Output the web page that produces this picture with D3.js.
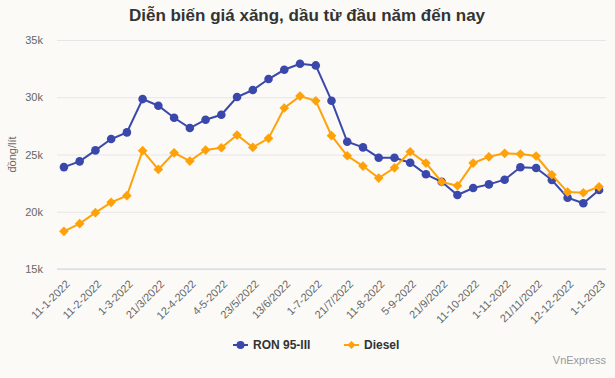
<!DOCTYPE html>
<html>
<head>
<meta charset="utf-8">
<script src="https://cdn.jsdelivr.net/npm/d3@7"></script>
<style>
  body { margin: 0; background: #fbfaf7; }
  svg { display: block; font-family: "Liberation Sans", Arial, sans-serif; }
</style>
</head>
<body>
<svg width="615" height="378"></svg>
<script>
const dates = [
  '11-1-2022', '21-1-2022', '11-2-2022', '21-2-2022', '1-3-2022', '11-3-2022',
  '21/3/2022', '1-4-2022', '12-4-2022', '25-4-2022', '4-5-2022', '11-5-2022',
  '23/5/2022', '1-6-2022', '13/6/2022', '21-6-2022', '1-7-2022', '11-7-2022',
  '21/7/2022', '1-8-2022', '11-8-2022', '22-8-2022', '5-9-2022', '12-9-2022',
  '21/9/2022', '3-10-2022', '11-10-2022', '21-10-2022', '1-11-2022', '11-11-2022',
  '21/11/2022', '1-12-2022', '12-12-2022', '21-12-2022', '1-1-2023'
];
const ron95 = [
  23900, 24400, 25360, 26350, 26930, 29840, 29260, 28210, 27310, 28040, 28470, 30020,
  30630, 31590, 32400, 32920, 32780, 29700, 26110, 25620, 24720, 24720, 24280, 23270,
  22620, 21460, 22070, 22390, 22800, 23880, 23820, 22770, 21230, 20740, 21900
];
const diesel = [
  18290, 18960, 19920, 20820, 21400, 25330, 23700, 25150, 24430, 25390, 25590, 26700,
  25620, 26410, 29060, 30100, 29690, 26640, 24890, 23990, 22940, 23840, 25240, 24250,
  22600, 22270, 24250, 24800, 25100, 25040, 24870, 23230, 21720, 21660, 22180
];
const yTicks = [15000, 20000, 25000, 30000, 35000];

const svg = d3.select('svg');
const margin = { top: 40, left: 57, right: 9, bottom: 109 };
const width = +svg.attr('width') - margin.left - margin.right;
const height = +svg.attr('height') - margin.top - margin.bottom;

const blue = '#3a48ab';
const orange = '#ffa20a';

svg.append('text')
    .attr('x', 307)
    .attr('y', 21)
    .attr('text-anchor', 'middle')
    .style('font-size', '17px')
    .style('font-weight', 'bold')
    .style('fill', '#333')
    .text('Diễn biến giá xăng, dầu từ đầu năm đến nay');

const g = svg.append('g').attr('transform', `translate(${margin.left}, ${margin.top})`);

const x = d3.scalePoint().domain(dates).range([0, width]).padding(0.44);
const y = d3.scaleLinear().domain([15000, 35000]).range([height, 0]);

// grid + y labels
const yAxis = d3.axisLeft(y).tickValues(yTicks).tickSize(-width).tickFormat(d3.format('~s'));
g.append('g')
    .call(yAxis)
    .call(a => {
        a.select('.domain').remove();
        a.selectAll('.tick line').attr('stroke', '#e6e6e6');
        a.selectAll('.tick text')
            .attr('x', -14)
            .style('font-size', '11px')
            .style('font-family', '"Liberation Sans", Arial, sans-serif')
            .attr('fill', '#666');
    });

// x axis line
g.append('line')
    .attr('x1', 0).attr('x2', width)
    .attr('y1', y(15000)).attr('y2', y(15000))
    .attr('stroke', '#ccd6eb');

// x labels, every other date
g.selectAll('.xlab')
    .data(dates.filter((d, i) => i % 2 === 0))
    .enter().append('text')
    .attr('class', 'xlab')
    .attr('transform', d => `translate(${x(d) + 4}, ${height + 13}) rotate(-45)`)
    .attr('text-anchor', 'end')
    .attr('dy', '0.35em')
    .style('font-size', '11px')
    .attr('fill', '#666')
    .text(d => d);

// y title
svg.append('text')
    .attr('transform', `translate(16, ${margin.top + height / 2}) rotate(-90)`)
    .attr('text-anchor', 'middle')
    .style('font-size', '11px')
    .attr('fill', '#666')
    .text('đồng/lít');

const line = d3.line()
    .x((d, i) => x(dates[i]))
    .y(d => y(d));

const diamond = d3.symbol().type(d3.symbolDiamond2).size(60);

// RON 95-III
g.append('path')
    .attr('d', line(ron95))
    .attr('fill', 'none')
    .attr('stroke', blue)
    .attr('stroke-width', 2);
g.selectAll('.ron')
    .data(ron95)
    .enter().append('circle')
    .attr('cx', (d, i) => x(dates[i]))
    .attr('cy', d => y(d))
    .attr('r', 4.3)
    .attr('fill', blue);

// Diesel
g.append('path')
    .attr('d', line(diesel))
    .attr('fill', 'none')
    .attr('stroke', orange)
    .attr('stroke-width', 2);
g.selectAll('.diesel')
    .data(diesel)
    .enter().append('path')
    .attr('d', diamond)
    .attr('transform', (d, i) => `translate(${x(dates[i])}, ${y(d)})`)
    .attr('fill', orange);

// legend
const legend = svg.append('g').attr('transform', 'translate(233, 345)');
const items = [
    { name: 'RON 95-III', color: blue, x: 0, marker: 'circle' },
    { name: 'Diesel', color: orange, x: 111, marker: 'diamond' }
];
items.forEach(it => {
    const li = legend.append('g').attr('transform', `translate(${it.x}, 0)`);
    li.append('line').attr('x1', 0).attr('x2', 15).attr('stroke', it.color).attr('stroke-width', 2);
    if (it.marker === 'circle') {
        li.append('circle').attr('cx', 7.5).attr('r', 4).attr('fill', it.color);
    } else {
        li.append('path').attr('d', d3.symbol().type(d3.symbolDiamond2).size(40)).attr('transform', 'translate(7.5,0)').attr('fill', it.color);
    }
    li.append('text')
        .attr('x', 20)
        .attr('dy', '0.35em')
        .style('font-size', '12px')
        .style('font-weight', 'bold')
        .attr('fill', '#333')
        .text(it.name);
});

svg.append('text')
    .attr('x', 606)
    .attr('y', 364)
    .attr('text-anchor', 'end')
    .style('font-size', '11px')
    .attr('fill', '#999')
    .text('VnExpress');
</script>
</body>
</html>
